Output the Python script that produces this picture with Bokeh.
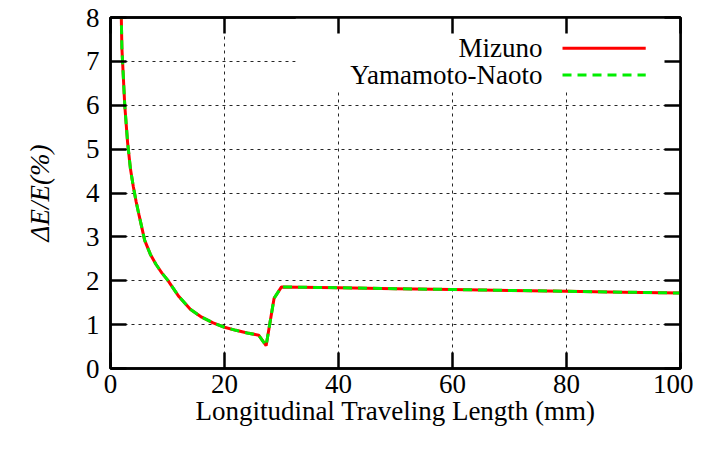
from bokeh.plotting import figure
from bokeh.models import LinearAxis, FixedTicker, ColumnDataSource
from bokeh.core.properties import value
from bokeh.embed import file_html
from bokeh.resources import INLINE

# ---- data ----
length_mm = [1.0, 1.5, 2.0, 2.5, 3.0, 3.5, 4.0, 4.5, 5.0, 6.0, 7.0, 8.0, 9.0, 10.0,
             12.0, 14.0, 16.0, 18.0, 20.0, 22.0, 24.0, 26.0, 27.3, 28.7, 30.0,
             40.0, 50.0, 60.0, 70.0, 80.0, 90.0, 100.0]
mizuno = [15.0, 10.6, 7.3, 6.0, 5.15, 4.55, 4.15, 3.8, 3.5, 2.92, 2.6, 2.37, 2.18, 2.02,
          1.64, 1.35, 1.17, 1.04, 0.94, 0.87, 0.81, 0.76, 0.52, 1.60, 1.86,
          1.84, 1.82, 1.80, 1.78, 1.76, 1.74, 1.72]
yamamoto_naoto = [15.0, 10.6, 7.3, 6.0, 5.15, 4.55, 4.15, 3.8, 3.5, 2.92, 2.6, 2.37, 2.18, 2.02,
                  1.64, 1.35, 1.17, 1.04, 0.94, 0.87, 0.81, 0.76, 0.52, 1.60, 1.86,
                  1.84, 1.82, 1.80, 1.78, 1.76, 1.74, 1.72]
series_names = ["Mizuno", "Yamamoto-Naoto"]
x_ticks = [0, 20, 40, 60, 80, 100]
y_ticks = [0, 1, 2, 3, 4, 5, 6, 7, 8]

FONT = "Liberation Serif"
FS = "27px"

p = figure(width=693, height=442, x_range=(0, 100), y_range=(0, 8),
           output_backend="svg", toolbar_location=None,
           min_border_left=110, min_border_right=13, min_border_top=17, min_border_bottom=74)
p.outline_line_color = "black"
p.outline_line_width = 2.5
p.background_fill_color = "white"
p.border_fill_color = "white"

# axes
for ax in (p.xaxis[0], p.yaxis[0]):
    ax.major_tick_in = 16
    ax.major_tick_out = 0
    ax.minor_tick_in = 0
    ax.minor_tick_out = 0
    ax.major_tick_line_width = 2.5
    ax.axis_line_width = 2.5
    ax.major_label_text_font = FONT
    ax.major_label_text_font_size = FS
    ax.major_label_text_color = "black"
    ax.axis_label_text_font = FONT
    ax.axis_label_text_font_size = FS
    ax.axis_label_text_color = "black"
p.xaxis[0].ticker = FixedTicker(ticks=x_ticks)
p.yaxis[0].ticker = FixedTicker(ticks=y_ticks)
p.xaxis[0].major_label_standoff = 6
p.yaxis[0].major_label_standoff = 11
p.xaxis[0].axis_label = "Longitudinal Traveling Length (mm)"
p.xaxis[0].axis_label_text_font_style = "normal"
p.xaxis[0].axis_label_standoff = 0
p.yaxis[0].axis_label = "ΔE/E(%)"
p.yaxis[0].axis_label_text_font_style = "italic"
p.yaxis[0].axis_label_standoff = 28

top = LinearAxis(ticker=FixedTicker(ticks=x_ticks),
                 major_label_overrides={t: "" for t in x_ticks})
right = LinearAxis(ticker=FixedTicker(ticks=y_ticks),
                   major_label_overrides={t: "" for t in y_ticks})
for ax in (top, right):
    ax.major_tick_in = 16
    ax.major_tick_out = 0
    ax.minor_tick_in = 0
    ax.minor_tick_out = 0
    ax.major_tick_line_width = 2.5
    ax.axis_line_width = 2.5
    ax.major_label_standoff = 0
p.add_layout(top, "above")
p.add_layout(right, "right")

# grid
for g in (p.xgrid[0], p.ygrid[0]):
    g.grid_line_color = "black"
    g.grid_line_dash = "3 4"
    g.grid_line_width = 1
    g.grid_line_alpha = 0.85
p.xgrid[0].ticker = FixedTicker(ticks=x_ticks)
p.ygrid[0].ticker = FixedTicker(ticks=y_ticks)

# legend background (opaque, hides grid like the reference)
p.quad(left=[32.5], right=[100], bottom=[6.35], top=[8], fill_color="white", line_color=None)

# curves
p.line(length_mm, mizuno, line_color="#ff0000", line_width=3)
p.line(length_mm, yamamoto_naoto, line_color="#00ee00", line_width=3, line_dash="9 6")

# custom gnuplot-style legend (text right, sample left->right)
leg = ColumnDataSource(dict(x=[75.8, 75.8], y=[7.3, 6.69], t=series_names))
p.text(x="x", y="y", text="t", source=leg, text_align="right", text_baseline="middle",
       text_font=value(FONT), text_font_size=FS, text_color="black")
p.segment(x0=[79.3], y0=[7.3], x1=[93.9], y1=[7.3], line_color="#ff0000", line_width=3)
p.segment(x0=[79.3], y0=[6.69], x1=[93.9], y1=[6.69], line_color="#00ee00", line_width=3,
          line_dash="9 6")

open("out.html", "w").write(file_html(p, INLINE))
